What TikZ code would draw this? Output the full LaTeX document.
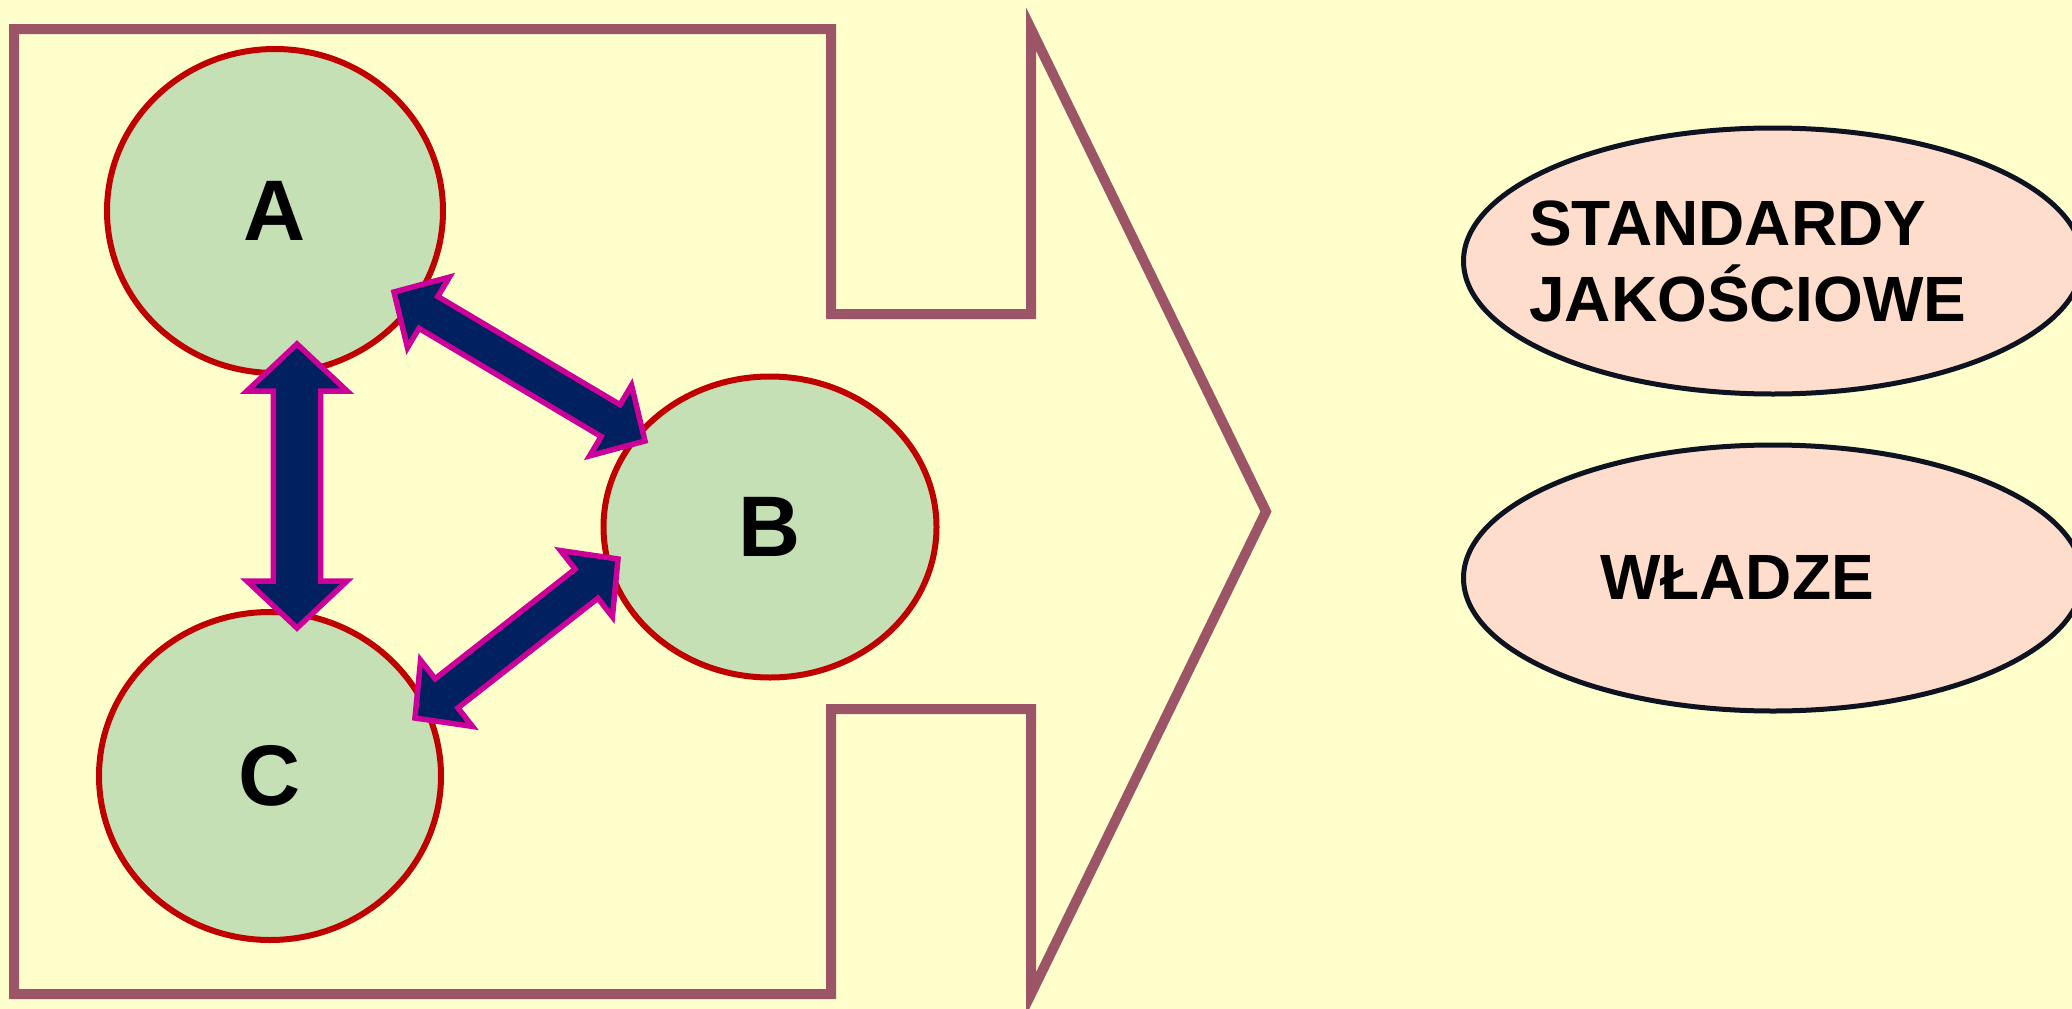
\documentclass[tikz,border=0pt]{standalone}
\usepackage{fontspec}
\setmainfont{Liberation Sans}
\usetikzlibrary{shapes.geometric,calc}
\definecolor{paper}{HTML}{FFFFCC}
\definecolor{framecol}{HTML}{9B5566}
\definecolor{leaf}{HTML}{C5E0B4}
\definecolor{rim}{HTML}{C00000}
\definecolor{navy}{HTML}{002060}
\definecolor{plum}{HTML}{CC0099}
\definecolor{peach}{HTML}{FFDDCC}
\definecolor{ink}{HTML}{0D1320}
% #1 start, #2 end, #3 head length, #4 head half width, #5 shaft half width
\newcommand{\twoway}[5]{%
  \draw[dualarrow] (#1) -- ($(#1)!#3!(#2)!#4!90:(#2)$) -- ($(#1)!#3!(#2)!#5!90:(#2)$)
    -- ($(#2)!#3!(#1)!#5!-90:(#1)$) -- ($(#2)!#3!(#1)!#4!-90:(#1)$) -- (#2)
    -- ($(#2)!#3!(#1)!#4!90:(#1)$) -- ($(#2)!#3!(#1)!#5!90:(#1)$)
    -- ($(#1)!#3!(#2)!#5!-90:(#2)$) -- ($(#1)!#3!(#2)!#4!-90:(#2)$) -- cycle;}
\begin{document}
\begin{tikzpicture}[x=1pt,y=-1pt,
		party/.style={ellipse,draw=rim,fill=leaf,line width=6pt,inner sep=0pt,
			font=\bfseries\fontsize{86}{100}\selectfont},
		topic/.style={ellipse,draw=ink,fill=peach,line width=5pt,inner sep=0pt,
			minimum width=619pt,minimum height=266pt},
		topictext/.style={inner sep=0pt,align=left,font=\bfseries\fontsize{64}{76}\selectfont},
		dualarrow/.style={draw=plum,fill=navy,line width=5.5pt,line join=miter}]
		\useasboundingbox (0,0) rectangle (2072,1009);
		\clip (0,0) rectangle (2072,1009);
		\fill[paper] (0,0) rectangle (2072,1009);
		\draw[framecol,line width=10pt,line join=miter] (14,29) -- (831,29) -- (831,314)
			-- (1031,314) -- (1031,29) -- (1266,511.5) -- (1031,994) -- (1031,709)
			-- (831,709) -- (831,994) -- (14,994) -- cycle;
		\node[party,minimum width=336pt,minimum height=324pt] (A) at (275,211) {A};
		\node[party,minimum width=333pt,minimum height=301pt] (B) at (770,527) {B};
		\node[party,minimum width=342pt,minimum height=328pt] (C) at (270,776) {C};
		\coordinate (ac1) at (297,344);
		\coordinate (ac2) at (297,628);
		\coordinate (ab1) at (394,292);
		\coordinate (ab2) at (645,441);
		\coordinate (cb1) at (415,718);
		\coordinate (cb2) at (618,559);
		\twoway{ac1}{ac2}{47pt}{50pt}{23.7pt}
		\twoway{ab1}{ab2}{40pt}{41pt}{18.5pt}
		\twoway{cb1}{cb2}{40pt}{42pt}{18.5pt}
		\node[topic] (std) at (1773,261) {};
		\node[topic] (gov) at (1773,578) {};
		\node[topictext,anchor=west] (stdtext) at (1529,261) {STANDARDY\\JAKOŚCIOWE};
		\node[topictext] (govtext) at (1737,577) {WŁADZE};
	\end{tikzpicture}
\end{document}
